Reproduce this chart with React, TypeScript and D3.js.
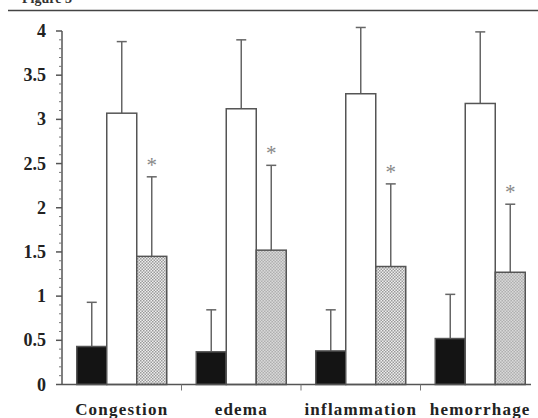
import React from "react";
import * as d3 from "d3";

const categories = ["Congestion", "edema", "inflammation", "hemorrhage"];
const seriesKeys = ["control", "injury", "treated"];
const controlMean = [0.43, 0.37, 0.38, 0.52];
const controlErr = [0.5, 0.475, 0.465, 0.5];
const injuryMean = [3.07, 3.12, 3.29, 3.18];
const injuryErr = [0.81, 0.78, 0.75, 0.81];
const treatedMean = [1.45, 1.52, 1.335, 1.27];
const treatedErr = [0.9, 0.96, 0.935, 0.77];
const significant = [true, true, true, true];
const yTicks = [0, 0.5, 1, 1.5, 2, 2.5, 3, 3.5, 4];

const means = [controlMean, injuryMean, treatedMean];
const errs = [controlErr, injuryErr, treatedErr];
const fills = ["#141414", "#ffffff", "url(#cross)"];

const W = 538;
const H = 418;
const x0 = 62;
const x1 = 540;
const yBottom = 384.5;
const yTop = 31;

export default function App() {
  const x = d3.scaleBand<string>().domain(categories).range([x0, x1]);
  const inner = d3
    .scaleBand<string>()
    .domain(seriesKeys)
    .range([14.75, x.bandwidth() - 14.75]);
  const y = d3.scaleLinear().domain([0, 4]).range([yBottom, yTop]);
  const minor = d3.range(0, 40).map((i) => i / 10).filter((v) => Math.round(v * 10) % 5 !== 0);
  const stroke = "#555";
  const font = "'Liberation Serif', 'Times New Roman', serif";

  return (
    <svg
      width={W}
      height={H}
      style={{ position: "absolute", left: 0, top: 0, background: "#fff" }}
    >
      <defs>
        <pattern id="cross" width="3" height="3" patternUnits="userSpaceOnUse">
          <rect width="3" height="3" fill="#eeeeee" />
          <rect x="0" y="0" width="1.5" height="1.5" fill="#9a9a9a" />
          <rect x="1.5" y="1.5" width="1.5" height="1.5" fill="#9a9a9a" />
        </pattern>
      </defs>

      {/* header rule and clipped figure caption */}
      <text x={22} y={3} fontFamily={font} fontWeight="bold" fontSize={14} fill="#333">
        Figure 3
      </text>
      <line x1={8} x2={538} y1={10.5} y2={10.5} stroke="#444" strokeWidth={1.5} />

      {/* bars and error bars */}
      {categories.map((c, ci) => (
        <g key={c} transform={`translate(${x(c)},0)`}>
          {seriesKeys.map((s, si) => {
            const bx = inner(s)!;
            const bw = inner.bandwidth();
            const v = means[si][ci];
            const e = errs[si][ci];
            const cx = bx + bw / 2;
            return (
              <g key={s}>
                <line x1={cx} x2={cx} y1={y(v)} y2={y(v + e)} stroke="#666" strokeWidth={1.5} />
                <line x1={cx - 5} x2={cx + 5} y1={y(v + e)} y2={y(v + e)} stroke="#666" strokeWidth={1.5} />
                <rect
                  x={bx}
                  y={y(v)}
                  width={bw}
                  height={y(0) - y(v)}
                  fill={fills[si]}
                  stroke={stroke}
                  strokeWidth={1.5}
                />
                {si === 2 && significant[ci] && (
                  <text
                    x={cx}
                    y={y(v + e) - 5}
                    textAnchor="middle"
                    fontFamily={font}
                    fontSize={21}
                    fill="#888"
                  >
                    *
                  </text>
                )}
              </g>
            );
          })}
        </g>
      ))}

      {/* y axis */}
      <line x1={x0} x2={x0} y1={yTop} y2={yBottom} stroke={stroke} strokeWidth={1.5} />
      {minor.map((v) => (
        <line key={v} x1={x0 - 3} x2={x0} y1={y(v)} y2={y(v)} stroke="#777" strokeWidth={1} />
      ))}
      {yTicks.map((t) => (
        <g key={t}>
          <line x1={x0 - 6} x2={x0} y1={y(t)} y2={y(t)} stroke={stroke} strokeWidth={1.5} />
          <text
            x={46}
            y={y(t) + 6}
            textAnchor="end"
            fontFamily={font}
            fontWeight="bold"
            fontSize={18}
            fill="#222"
          >
            {t}
          </text>
        </g>
      ))}

      {/* x axis */}
      <line x1={x0} x2={531} y1={yBottom} y2={yBottom} stroke={stroke} strokeWidth={1.5} />
      {categories.slice(1).map((c) => (
        <line key={c} x1={x(c)!} x2={x(c)!} y1={yBottom} y2={yBottom + 6} stroke="#777" strokeWidth={1} />
      ))}
      {categories.map((c) => (
        <text
          key={c}
          x={x(c)! + x.bandwidth() / 2}
          y={415}
          textAnchor="middle"
          fontFamily={font}
          fontWeight="bold"
          fontSize={17}
          letterSpacing={1.2}
          fill="#222"
        >
          {c}
        </text>
      ))}
    </svg>
  );
}
